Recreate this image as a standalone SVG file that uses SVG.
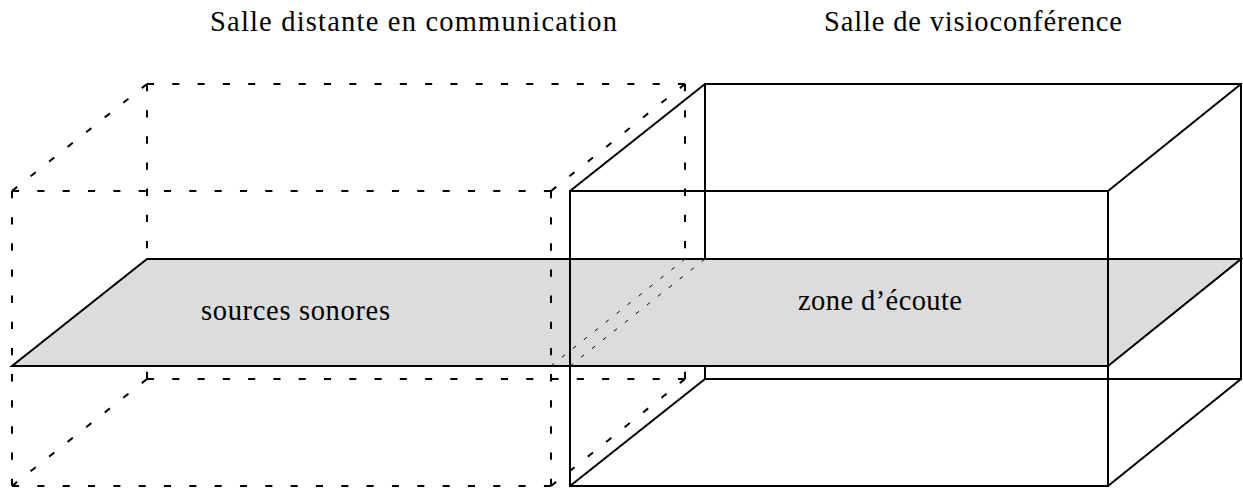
<svg xmlns="http://www.w3.org/2000/svg" width="1243" height="489" viewBox="0 0 1243 489">
<style>
.solid{stroke:#000;stroke-width:2;fill:none;stroke-linecap:butt}
.dash{stroke:#000;stroke-width:2;fill:none;stroke-dasharray:7 18}
.fine{stroke:#000;stroke-width:1;fill:none;stroke-dasharray:4 10}
.plane{fill:#dcdcdc;stroke:#000;stroke-width:2;stroke-linejoin:miter}
.lbl{font-family:"Liberation Serif","Times New Roman",serif;font-size:28.5px;fill:#000}
</style>
<rect width="1243" height="489" fill="#fff"/>
<g id="back-edges">
  <line class="dash" x1="147" y1="84" x2="685" y2="84" pathLength="532"/>
  <line class="dash" x1="147" y1="379" x2="685" y2="379" pathLength="532"/>
  <line class="dash" x1="147" y1="84" x2="147" y2="379" pathLength="282"/>
  <line class="dash" x1="685" y1="84" x2="685" y2="379" pathLength="282"/>
  <rect class="solid" x="705" y="84" width="536" height="295"/>
</g>
<g id="plane">
  <polygon class="plane" points="12,366 1108,366 1241,259 147,259"/>
</g>
<g id="room-distant">
  <line class="dash" x1="12" y1="191" x2="551" y2="191" pathLength="532"/>
  <line class="dash" x1="12" y1="486" x2="551" y2="486" pathLength="532"/>
  <line class="dash" x1="12" y1="191" x2="12" y2="486" pathLength="282"/>
  <line class="dash" x1="551" y1="191" x2="551" y2="486" pathLength="282"/>
  <line class="dash" x1="12" y1="191" x2="147" y2="84" pathLength="182"/>
  <line class="dash" x1="551" y1="191" x2="685" y2="84" pathLength="182"/>
  <line class="dash" x1="12" y1="486" x2="147" y2="379" pathLength="182"/>
  <line class="dash" x1="551" y1="486" x2="685" y2="379" pathLength="182"/>
</g>
<g id="room-visio">
  <rect class="solid" x="570" y="191" width="538" height="295"/>
  <line class="solid" x1="570" y1="191" x2="705" y2="84"/>
  <line class="solid" x1="1108" y1="191" x2="1241" y2="84"/>
  <line class="solid" x1="570" y1="486" x2="705" y2="379"/>
  <line class="solid" x1="1108" y1="486" x2="1241" y2="379"/>
</g>
<g id="plane-hidden-edges">
  <line class="fine" x1="551" y1="366" x2="685" y2="259"/>
  <line class="fine" x1="570" y1="366" x2="705" y2="259"/>
</g>
<g id="labels">
  <text class="lbl" x="210" y="31" textLength="407" lengthAdjust="spacing">Salle distante en communication</text>
  <text class="lbl" x="824" y="31" textLength="298" lengthAdjust="spacing">Salle de visioconférence</text>
  <text class="lbl" x="201" y="320" textLength="189" lengthAdjust="spacing">sources sonores</text>
  <text class="lbl" x="798" y="310" textLength="164" lengthAdjust="spacing">zone d’écoute</text>
</g>
</svg>
